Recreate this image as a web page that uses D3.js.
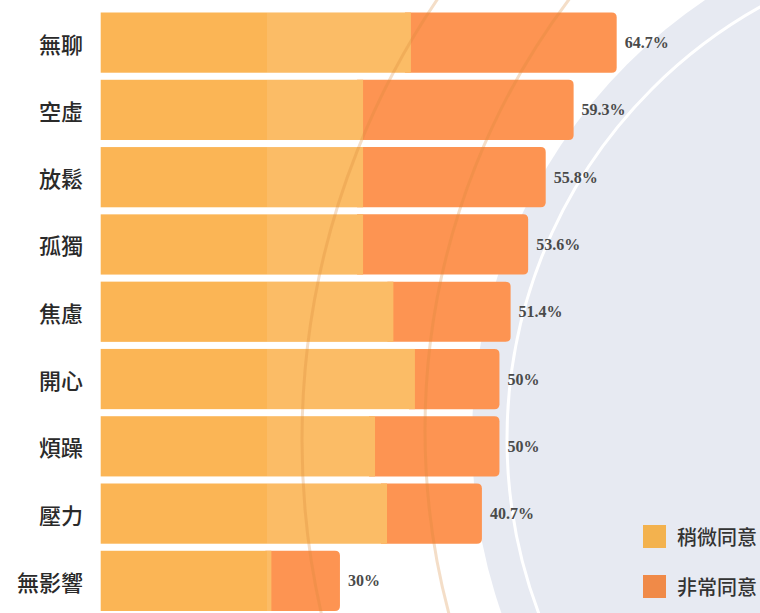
<!DOCTYPE html>
<html>
<head>
<meta charset="utf-8">
<script src="https://cdn.jsdelivr.net/npm/d3@7"></script>
<style>
  html, body { margin: 0; padding: 0; background: #ffffff; }
  svg { display: block; }
</style>
</head>
<body>
<svg id="chart" width="760" height="613"></svg>
<script>
// ---- data ----
const categories = ["無聊", "空虛", "放鬆", "孤獨", "焦慮", "開心", "煩躁", "壓力", "無影響"];
const slightlyAgree = [38.9, 32.9, 32.9, 32.9, 36.7, 39.4, 34.4, 35.9, 21.4];   // 稍微同意
const stronglyAgree = [25.8, 26.4, 22.9, 20.7, 14.7, 10.6, 15.6, 11.9, 8.6];    // 非常同意
const totalLabels = ["64.7%", "59.3%", "55.8%", "53.6%", "51.4%", "50%", "50%", "40.7%", "30%"];
const seriesNames = ["稍微同意", "非常同意"];

// ---- styles ----
const colLight = "#fbb555", colDark = "#fd9452";
const legendColors = ["#f3b24e", "#f08a48"];

const svg = d3.select("#chart");

// background decoration (large pale circle + white arc)
svg.append("circle").attr("cx", 1002).attr("cy", 439).attr("r", 530).attr("fill", "#e7eaf2");
svg.append("circle").attr("cx", 1002).attr("cy", 439).attr("r", 495)
  .attr("fill", "none").attr("stroke", "#ffffff").attr("stroke-width", 3);

// scales
const x = d3.scaleLinear().domain([0, 100]).range([100.7, 898.2]);
const y = d3.scaleBand().domain(categories).range([12.5, 611]).paddingInner(0.105).paddingOuter(0);

const rows = categories.map((c, i) => ({
  cat: c, a: slightlyAgree[i], b: stronglyAgree[i], label: totalLabels[i]
}));

const g = svg.append("g");

// strongly agree segment (rounded right end)
g.selectAll("path.dark").data(rows).join("path")
  .attr("class", "dark")
  .attr("fill", colDark)
  .attr("d", d => {
    const x0 = x(d.a) - 6, x1 = x(d.a + d.b), y0 = y(d.cat), h = y.bandwidth(), r = 5;
    return `M${x0},${y0} H${x1 - r} Q${x1},${y0} ${x1},${y0 + r} V${y0 + h - r} Q${x1},${y0 + h} ${x1 - r},${y0 + h} H${x0} Z`;
  });

// slightly agree segment
g.selectAll("rect.light").data(rows).join("rect")
  .attr("class", "light")
  .attr("x", x(0))
  .attr("y", d => y(d.cat))
  .attr("width", d => x(d.a) - x(0))
  .attr("height", y.bandwidth())
  .attr("fill", colLight);

// faint light sheen from watermark over the light segments
g.selectAll("rect.sheen").data(rows).join("rect")
  .attr("class", "sheen")
  .attr("x", 267)
  .attr("y", d => y(d.cat))
  .attr("width", d => Math.max(0, x(d.a) - 267))
  .attr("height", y.bandwidth())
  .attr("fill", "#ffffff").attr("opacity", 0.1);

// faint watermark arcs
const wm = svg.append("g").attr("fill", "none").attr("stroke", "#d98a3a").attr("stroke-opacity", 0.28).attr("stroke-width", 3);
wm.append("circle").attr("cx", 1086).attr("cy", 440).attr("r", 784);
wm.append("circle").attr("cx", 1140).attr("cy", 430).attr("r", 715);

// category labels
svg.append("g").selectAll("text").data(categories).join("text")
  .attr("x", 83)
  .attr("y", d => y(d) + y.bandwidth() / 2)
  .attr("text-anchor", "end")
  .attr("dominant-baseline", "central")
  .attr("font-family", "'Noto Sans CJK TC', 'Noto Sans CJK SC', sans-serif")
  .attr("font-size", 22)
  .attr("font-weight", 500)
  .attr("fill", "#2a2a2a")
  .text(d => d);

// value labels
svg.append("g").selectAll("text").data(rows).join("text")
  .attr("x", d => x(d.a + d.b) + 8)
  .attr("y", d => y(d.cat) + y.bandwidth() / 2)
  .attr("dominant-baseline", "central")
  .attr("font-family", "'Liberation Serif', 'DejaVu Serif', serif")
  .attr("font-size", 16)
  .attr("font-weight", "bold")
  .attr("fill", "#4a4a4a")
  .text(d => d.label);

// legend
const lg = svg.append("g");
seriesNames.forEach((name, i) => {
  const ly = 525 + i * 50;
  lg.append("rect").attr("x", 643).attr("y", ly).attr("width", 23).attr("height", 23).attr("fill", legendColors[i]);
  lg.append("text").attr("x", 677).attr("y", ly + 11.5)
    .attr("dominant-baseline", "central")
    .attr("font-family", "'Noto Sans CJK TC', 'Noto Sans CJK SC', sans-serif")
    .attr("font-size", 20).attr("font-weight", 500).attr("fill", "#333")
    .text(name);
});
</script>
</body>
</html>
